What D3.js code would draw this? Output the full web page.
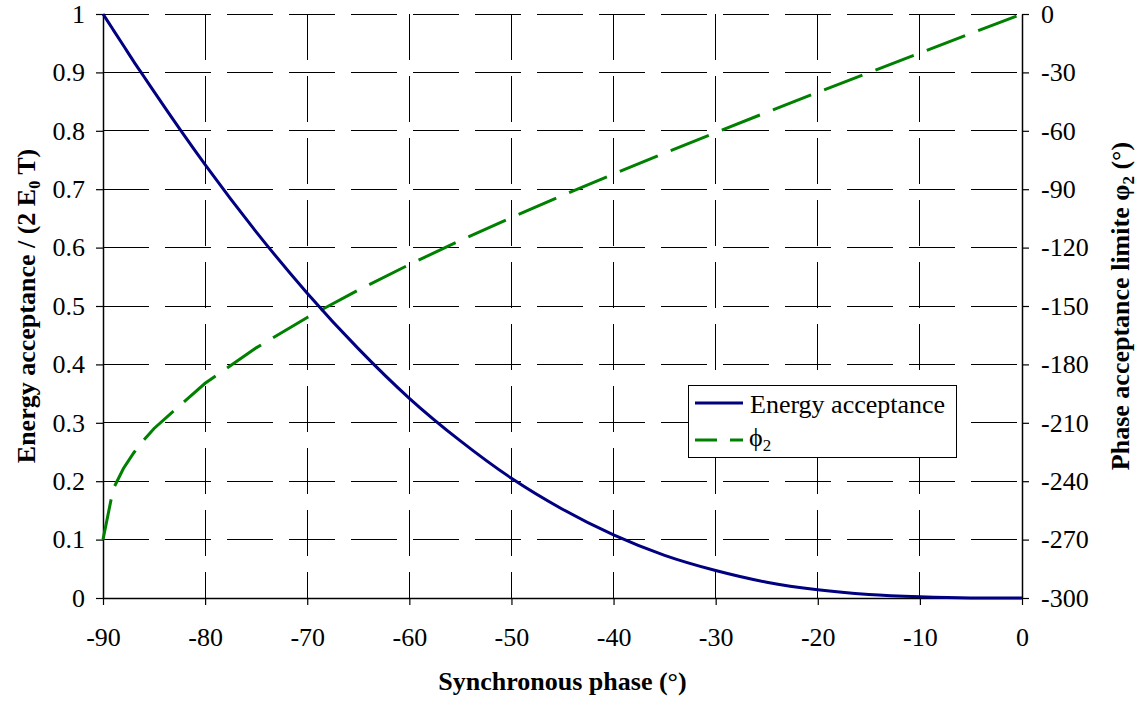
<!DOCTYPE html>
<html>
<head>
<meta charset="utf-8">
<script src="https://cdn.jsdelivr.net/npm/d3@7"></script>
<style>
  html, body { margin: 0; padding: 0; background: #fff; }
  svg { display: block; font-family: "Liberation Serif", "Times New Roman", serif; }
</style>
</head>
<body>
<svg id="chart" width="1142" height="704"></svg>
<script>
// ---- data ----
const phase = [-90, -89, -88, -87, -86, -85, -80, -75, -70, -65, -60, -55, -50, -45, -40, -35, -30, -25, -20, -15, -10, -5, 0];
const energyAcceptance = [1, 0.973, 0.946, 0.919, 0.893, 0.867, 0.742, 0.627, 0.522, 0.427, 0.342, 0.269, 0.205, 0.152, 0.108, 0.073, 0.047, 0.027, 0.014, 0.006, 0.002, 0.0002, 0];
const phi2 = [-270, -244, -233.5, -225.5, -218.8, -212.9, -189.7, -171.5, -155.9, -141.8, -128.7, -116.3, -104.6, -93.2, -82.2, -71.4, -60.9, -50.5, -40.2, -30.1, -20, -10, 0];

const xTicks = [-90, -80, -70, -60, -50, -40, -30, -20, -10, 0];
const xTickLabels = ["-90", "-80", "-70", "-60", "-50", "-40", "-30", "-20", "-10", "0"];
const yLeftTicks = [0, 0.1, 0.2, 0.3, 0.4, 0.5, 0.6, 0.7, 0.8, 0.9, 1];
const yLeftTickLabels = ["0", "0.1", "0.2", "0.3", "0.4", "0.5", "0.6", "0.7", "0.8", "0.9", "1"];
const yRightTicks = [-300, -270, -240, -210, -180, -150, -120, -90, -60, -30, 0];
const yRightTickLabels = ["-300", "-270", "-240", "-210", "-180", "-150", "-120", "-90", "-60", "-30", "0"];

const seriesNames = ["Energy acceptance", "\u03D5"];

// ---- layout ----
const W = 1142, H = 704;
const plot = { left: 103, right: 1022, top: 14, bottom: 598 };
const FONT = 26;

const svg = d3.select("#chart");

const x = d3.scaleLinear().domain([-90, 0]).range([plot.left, plot.right]);
const yL = d3.scaleLinear().domain([0, 1]).range([plot.bottom, plot.top]);
const yR = d3.scaleLinear().domain([-300, 0]).range([plot.bottom, plot.top]);

// gridlines
const grid = svg.append("g").attr("class", "grid");
grid.selectAll("line.h").data(yLeftTicks.filter(d => d > 0)).join("line")
  .attr("x1", plot.left).attr("x2", plot.right)
  .attr("y1", d => yL(d)).attr("y2", d => yL(d))
  .attr("stroke", "#000").attr("stroke-width", 1)
  .attr("stroke-dasharray", "46,16")
  .attr("shape-rendering", "crispEdges");
grid.selectAll("line.v").data(xTicks.filter(d => d > -90 && d < 0)).join("line")
  .attr("x1", d => x(d)).attr("x2", d => x(d))
  .attr("y1", plot.top).attr("y2", plot.bottom)
  .attr("stroke", "#000").attr("stroke-width", 1)
  .attr("stroke-dasharray", "46,16")
  .attr("shape-rendering", "crispEdges");

// axes
function styleAxis(g) {
  g.select(".domain").attr("stroke", "#000").attr("stroke-width", 1.5);
  g.selectAll(".tick line").attr("stroke", "#000").attr("stroke-width", 1.2);
  g.selectAll(".tick text").attr("fill", "#000")
    .style("font-family", '"Liberation Serif", "Times New Roman", serif')
    .style("font-size", FONT + "px");
}

const xAxis = d3.axisBottom(x).tickValues(xTicks).tickSizeInner(7).tickSizeOuter(0).tickPadding(23)
  .tickFormat((d, i) => xTickLabels[i]);
svg.append("g").attr("transform", `translate(0,${plot.bottom})`).call(xAxis).call(styleAxis);

const yAxisL = d3.axisLeft(yL).tickValues(yLeftTicks).tickSizeInner(7).tickSizeOuter(0).tickPadding(11)
  .tickFormat((d, i) => yLeftTickLabels[i]);
svg.append("g").attr("transform", `translate(${plot.left},0)`).call(yAxisL).call(styleAxis);

const yAxisR = d3.axisRight(yR).tickValues(yRightTicks).tickSizeInner(7).tickSizeOuter(0).tickPadding(12)
  .tickFormat((d, i) => yRightTickLabels[i]);
svg.append("g").attr("transform", `translate(${plot.right},0)`).call(yAxisR).call(styleAxis);

// series
const pts = phase.map((p, i) => ({ p, e: energyAcceptance[i], f: phi2[i] }));

const energyLine = d3.line().x(d => x(d.p)).y(d => yL(d.e)).curve(d3.curveMonotoneX);
const phiLine = d3.line().x(d => x(d.p)).y(d => yR(d.f));

svg.append("path").datum(pts)
  .attr("d", phiLine)
  .attr("fill", "none").attr("stroke", "#008000").attr("stroke-width", 3)
  .attr("stroke-dasharray", "41,14");

svg.append("path").datum(pts)
  .attr("d", energyLine)
  .attr("fill", "none").attr("stroke", "#000080").attr("stroke-width", 3);

// axis titles
svg.append("text")
  .attr("x", (plot.left + plot.right) / 2).attr("y", 690)
  .attr("text-anchor", "middle")
  .attr("font-weight", "bold").attr("font-size", FONT)
  .text("Synchronous phase (\u00B0)");

const lt = svg.append("text")
  .attr("transform", `translate(35,${(plot.top + plot.bottom) / 2}) rotate(-90)`)
  .attr("text-anchor", "middle")
  .attr("font-weight", "bold").attr("font-size", FONT);
lt.append("tspan").text("Energy acceptance / (2 E");
lt.append("tspan").attr("font-size", 16).attr("dy", 5).text("0");
lt.append("tspan").attr("dy", -5).text(" T)");

const rt = svg.append("text")
  .attr("transform", `translate(1129,${(plot.top + plot.bottom) / 2}) rotate(-90)`)
  .attr("text-anchor", "middle")
  .attr("font-weight", "bold").attr("font-size", FONT);
rt.append("tspan").text("Phase acceptance limite \u03C6");
rt.append("tspan").attr("font-size", 17).attr("dy", 5).text("2");
rt.append("tspan").attr("dy", -5).text(" (\u00B0)");

// legend
const lg = svg.append("g");
lg.append("rect").attr("x", 688.5).attr("y", 385.5).attr("width", 268).attr("height", 72)
  .attr("fill", "#fff").attr("stroke", "#000").attr("stroke-width", 1);
lg.append("line").attr("x1", 695).attr("x2", 743).attr("y1", 403).attr("y2", 403)
  .attr("stroke", "#000080").attr("stroke-width", 3);
lg.append("text").attr("x", 750).attr("y", 413).attr("font-size", FONT).text(seriesNames[0]);
lg.append("line").attr("x1", 695).attr("x2", 743).attr("y1", 440).attr("y2", 440)
  .attr("stroke", "#008000").attr("stroke-width", 3).attr("stroke-dasharray", "22,13");
const l2 = lg.append("text").attr("x", 749).attr("y", 446).attr("font-size", FONT);
l2.append("tspan").text(seriesNames[1]);
l2.append("tspan").attr("font-size", 17).attr("dy", 5).text("2");
</script>
</body>
</html>
